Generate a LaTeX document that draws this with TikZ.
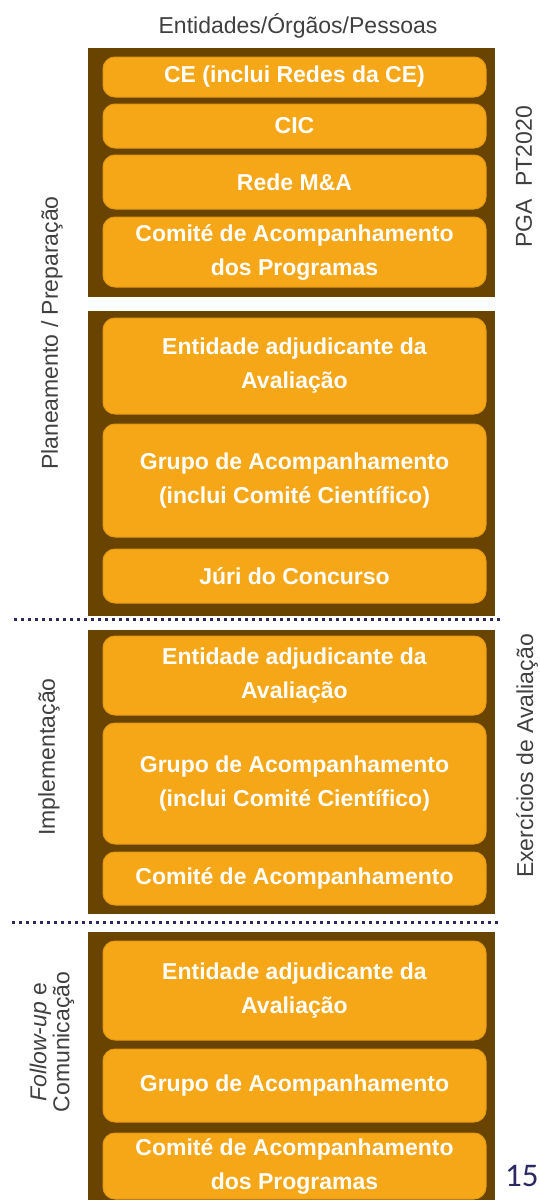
\documentclass[tikz,border=0pt]{standalone}
\usepackage{fontspec}
\setmainfont{Liberation Sans}
\newfontfamily\pagefont{Carlito}

\definecolor{stagebrown}{HTML}{694400}
\definecolor{actorfill}{HTML}{F6A718}
\definecolor{actorline}{HTML}{E39A12}
\definecolor{labelgray}{HTML}{404040}
\definecolor{sepnavy}{HTML}{2B2862}

\tikzset{
    stage/.style={fill=stagebrown, draw=none, inner sep=0pt},
    actor/.style={fill=actorfill, draw=actorline, line width=1pt, rounded corners=12pt,
        text=white, align=center, minimum width=383pt, inner sep=0pt,
        font=\fontsize{23}{34}\selectfont\bfseries},
    sidelabel/.style={text=labelgray, rotate=90, align=center,
        font=\fontsize{23}{23}\selectfont},
    sepline/.style={draw=sepnavy, line width=3pt, dash pattern=on 3pt off 4pt}
}

\begin{document}
\begin{tikzpicture}[x=1pt, y=-1pt]
    \useasboundingbox (0,0) rectangle (539,1200);

    \node[text=labelgray, font=\fontsize{23}{23}\selectfont] (title) at (298,26) {Entidades/Órgãos/Pessoas};

    % brown blocks
    \node[stage, minimum width=407pt, minimum height=249pt] (pga) at (291.5,172.5) {};
    \node[stage, minimum width=407pt, minimum height=305pt] (prep) at (291.5,463.5) {};
    \node[stage, minimum width=407pt, minimum height=284pt] (impl) at (291.5,772) {};
    \node[stage, minimum width=407pt, minimum height=270pt] (follow) at (291.5,1067) {};

    % PGA PT2020
    \node[actor, minimum height=40pt] (ce) at (294.5,77) {CE (inclui Redes da CE)};
    \node[actor, minimum height=44pt] (cic) at (294.5,126) {CIC};
    \node[actor, minimum height=54pt] (rede) at (294.5,182) {Rede M\&A};
    \node[actor, minimum height=70pt] (cap) at (294.5,252) {Comité de Acompanhamento\\dos Programas};

    % Planeamento / Preparacao
    \node[actor, minimum height=96pt] (entprep) at (294.5,366) {Entidade adjudicante da\\Avaliação};
    \node[actor, minimum height=113pt] (grpprep) at (294.5,480.5) {Grupo de Acompanhamento\\(inclui Comité Científico)};
    \node[actor, minimum height=54pt] (juri) at (294.5,576) {Júri do Concurso};

    % Implementacao
    \node[actor, minimum height=79pt] (entimpl) at (294.5,675.5) {Entidade adjudicante da\\Avaliação};
    \node[actor, minimum height=121pt] (grpimpl) at (294.5,783.5) {Grupo de Acompanhamento\\(inclui Comité Científico)};
    \node[actor, minimum height=53pt] (caimpl) at (294.5,878.5) {Comité de Acompanhamento};

    % Follow-up
    \node[actor, minimum height=99pt] (entfol) at (294.5,990.5) {Entidade adjudicante da\\Avaliação};
    \node[actor, minimum height=73pt] (grpfol) at (294.5,1085.5) {Grupo de Acompanhamento};
    \node[actor, minimum height=66pt] (capfol) at (294.5,1166) {Comité de Acompanhamento\\dos Programas};

    \coordinate (sepa1) at (14,619);
    \coordinate (sepa2) at (502,619);
    \coordinate (sepb1) at (12,922);
    \coordinate (sepb2) at (500,922);
    \draw[sepline] (sepa1) -- (sepa2);
    \draw[sepline] (sepb1) -- (sepb2);

    \node[sidelabel] (lprep) at (52,333) {Planeamento / Preparação};
    \node[sidelabel] (limpl) at (49,757) {Implementação};
    \node[sidelabel] (lfol) at (52,1042) {\textit{Follow-up} e\\Comunicação};
    \node[sidelabel] (lpga) at (524,177) {PGA\ \ PT2020};
    \node[sidelabel] (lex) at (527,756) {Exercícios de Avaliação};

    \node[text=sepnavy, font=\pagefont\fontsize{33}{33}\selectfont, anchor=west, inner sep=0pt] (pagenum) at (505,1176) {15};
\end{tikzpicture}
\end{document}
